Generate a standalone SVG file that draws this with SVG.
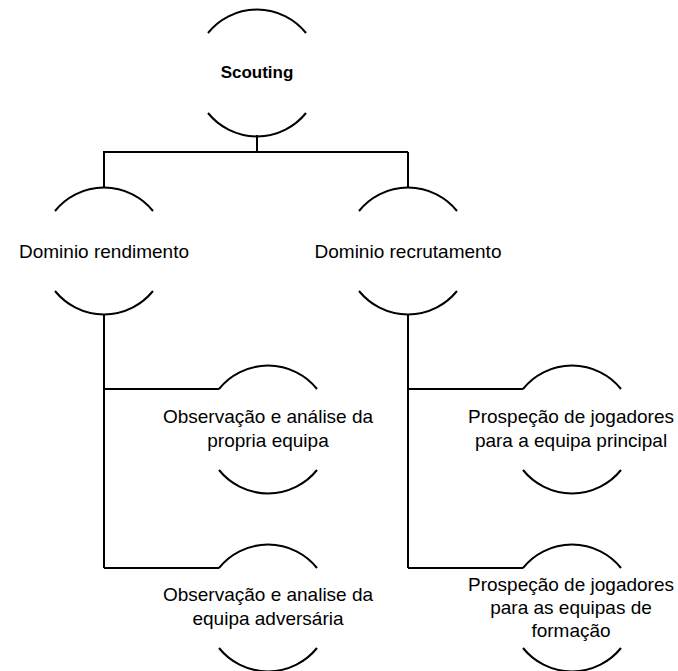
<svg xmlns="http://www.w3.org/2000/svg" width="678" height="671" viewBox="0 0 678 671">
<style>
.arc{fill:none;stroke:#000;stroke-width:2}
.conn{fill:none;stroke:#000;stroke-width:2}
.t{font-family:"Liberation Sans",Arial,sans-serif;font-size:19px;fill:#000;text-anchor:middle}
.b{font-weight:bold;font-size:17px}
</style>
<rect width="678" height="671" fill="#fff"/>
<g id="connectors">
<path class="conn" d="M257,135 V152 M103,152 H408 M104,152 V188 M408,152 V188"/>
<path class="conn" d="M104,314 V568 M104,389 H219 M104,568 H219"/>
<path class="conn" d="M408,314 V568 M408,389 H523 M408,568 H523"/>
</g>
<g id="scouting">
<path class="arc" d="M208,33 A63,63 0 0 1 306,33 M208,113 A63,63 0 0 0 306,113"/>
<text class="t b" x="257" y="78">Scouting</text>
</g>
<g id="rendimento">
<path class="arc" d="M55,211 A63,63 0 0 1 153,211 M55,291 A63,63 0 0 0 153,291"/>
<text class="t" x="104" y="258">Dominio rendimento</text>
</g>
<g id="recrutamento">
<path class="arc" d="M359,211 A63,63 0 0 1 457,211 M359,291 A63,63 0 0 0 457,291"/>
<text class="t" x="408" y="258">Dominio recrutamento</text>
</g>
<g id="propria">
<path class="arc" d="M219,389 A63,63 0 0 1 317,389 M219,470 A63,63 0 0 0 317,470"/>
<text class="t" x="268" y="423">Observação e análise da</text>
<text class="t" x="268" y="447">propria equipa</text>
</g>
<g id="adversaria">
<path class="arc" d="M219,568 A63,63 0 0 1 317,568 M219,648 A63,63 0 0 0 317,648"/>
<text class="t" x="268" y="601">Observação e analise da</text>
<text class="t" x="268" y="625">equipa adversária</text>
</g>
<g id="principal">
<path class="arc" d="M523,389 A63,63 0 0 1 621,389 M523,470 A63,63 0 0 0 621,470"/>
<text class="t" x="571" y="423">Prospeção de jogadores</text>
<text class="t" x="571" y="447">para a equipa principal</text>
</g>
<g id="formacao">
<path class="arc" d="M523,568 A63,63 0 0 1 621,568 M523,648 A63,63 0 0 0 621,648"/>
<text class="t" x="571" y="591">Prospeção de jogadores</text>
<text class="t" x="571" y="614">para as equipas de</text>
<text class="t" x="571" y="637">formação</text>
</g>
</svg>
